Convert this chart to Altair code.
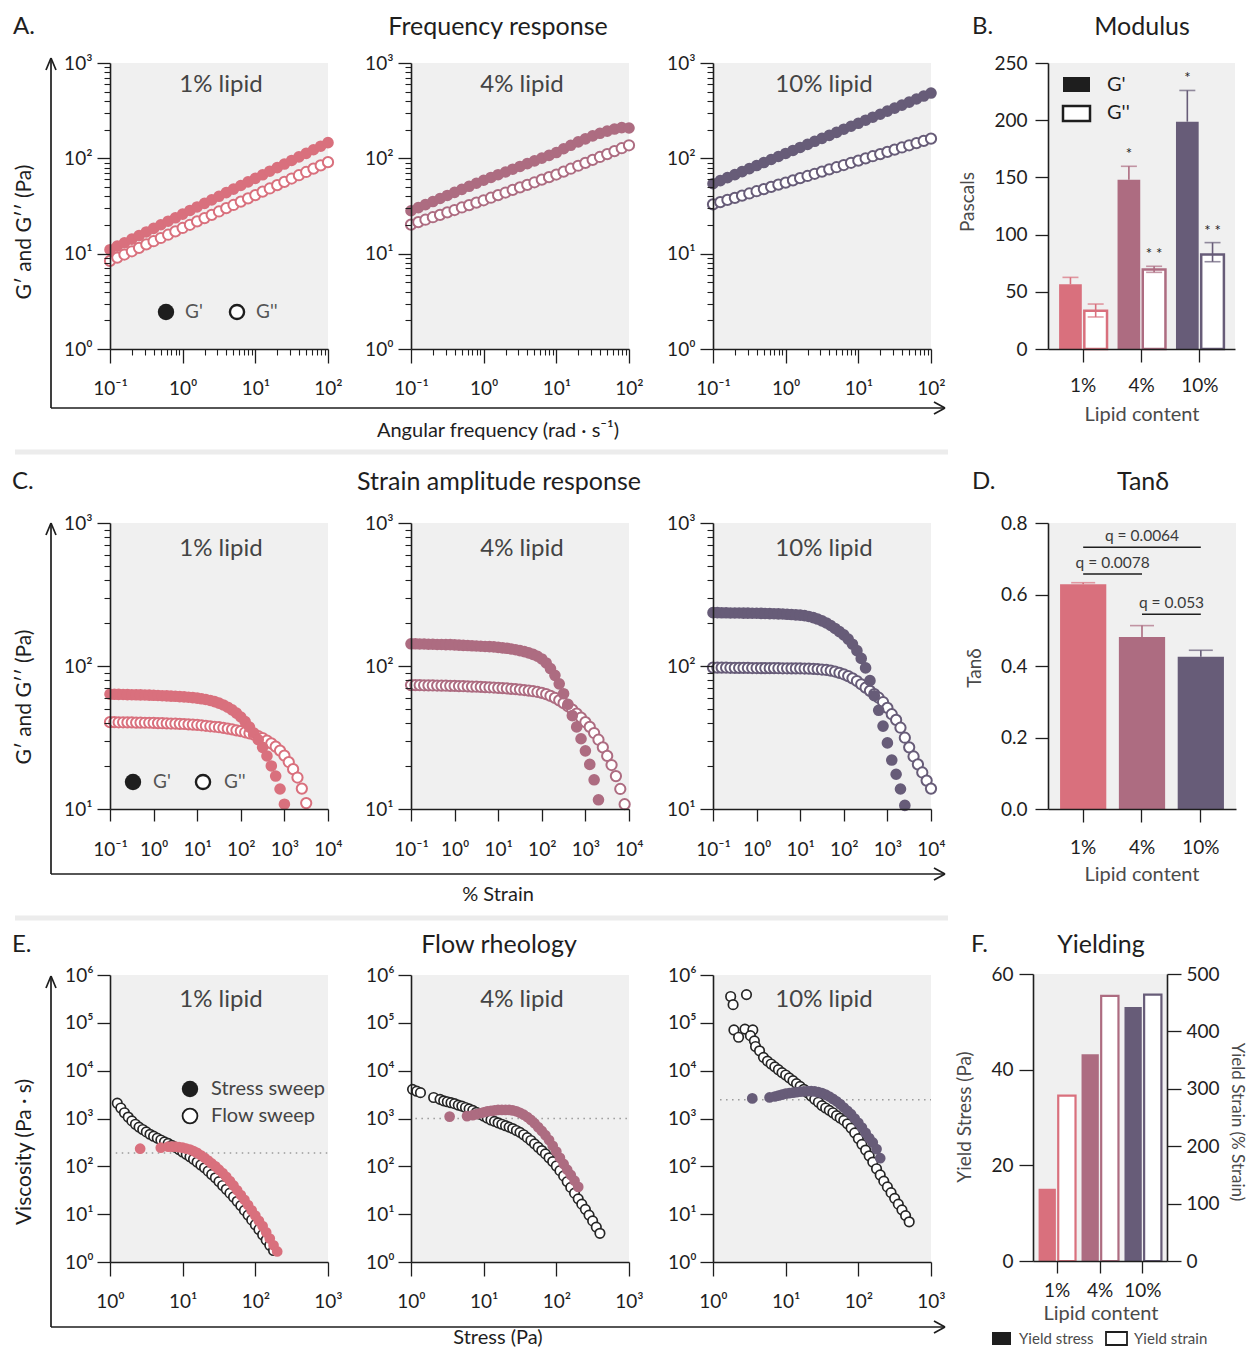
import altair as alt
import pandas as pd

W, H = 1242, 1340
FONT = "Lato"
C1, C4, C10 = "#D9707D", "#AD6C81", "#675C78"
PANEL_BG = "#F0F0F0"
INK = "#1E1E1E"
SOFT = "#4A4A4A"
SEP = "#ECECEC"

LIPID = ["1%", "4%", "10%"]
LIPID_COLORS = [C1, C4, C10]

# ---------------- A. frequency sweep (G', G'' vs angular frequency) ----------------
FREQ = [0.1, 0.126, 0.158, 0.2, 0.251, 0.316, 0.398, 0.501, 0.631, 0.794,
        1.0, 1.26, 1.58, 2.0, 2.51, 3.16, 3.98, 5.01, 6.31, 7.94,
        10, 12.6, 15.8, 20, 25.1, 31.6, 39.8, 50.1, 63.1, 79.4, 100]
A_GP_1 = [11.0, 12.0, 13.0, 14.2, 15.5, 16.9, 18.4, 20.1, 21.9, 23.8,
          26.0, 28.4, 30.9, 33.7, 36.7, 40.0, 43.7, 47.6, 51.9, 56.6,
          61.7, 67.2, 73.3, 79.9, 87.1, 95.0, 103.5, 112.8, 123.0, 134.0, 146.0]
A_GPP_1 = [8.4, 9.1, 9.8, 10.6, 11.5, 12.5, 13.5, 14.6, 15.8, 17.1,
           18.6, 20.1, 21.8, 23.6, 25.5, 27.7, 30.0, 32.4, 35.2, 38.0,
           41.2, 44.7, 48.3, 52.3, 56.6, 61.4, 66.5, 71.9, 78.0, 84.3, 91.2]
A_GP_4 = [28.2, 30.4, 32.7, 35.2, 37.9, 40.8, 44.0, 47.3, 50.9, 54.8,
          58.9, 63.0, 67.3, 71.9, 76.9, 82.2, 87.9, 94.0, 100.5, 107.4,
          115, 126, 137, 149, 160, 172, 183, 193, 203, 210, 208]
A_GPP_4 = [20.2, 21.4, 22.7, 24.1, 25.5, 27.1, 28.7, 30.5, 32.3, 34.3,
           36.3, 38.6, 41.1, 43.8, 46.6, 49.5, 52.7, 56.1, 59.7, 63.5,
           67.6, 72.6, 77.8, 83.6, 89.7, 96.3, 103.3, 110.9, 119.1, 127.7, 137.1]
A_GP_10 = [54.2, 58.3, 62.7, 67.4, 72.5, 78.1, 84.0, 90.3, 97.2, 104.5,
           112.5, 121, 130, 140, 151, 162, 174, 187, 202, 217,
           233, 251, 270, 290, 313, 336, 361, 389, 419, 450, 484]
A_GPP_10 = [32.9, 34.7, 36.6, 38.5, 40.6, 42.8, 45.2, 47.6, 50.1, 52.9,
            55.7, 58.8, 61.9, 65.3, 68.9, 72.6, 76.6, 80.7, 85.1, 89.8,
            94.6, 99.8, 105.2, 110.9, 116.9, 123.3, 130.0, 137.1, 144.5, 152.4, 160.7]

# ---------------- C. strain amplitude sweep ----------------
STRAIN = [0.1, 0.126, 0.158, 0.2, 0.251, 0.316, 0.398, 0.501, 0.631, 0.794,
          1.0, 1.26, 1.58, 2.0, 2.51, 3.16, 3.98, 5.01, 6.31, 7.94,
          10, 12.6, 15.8, 20, 25.1, 31.6, 39.8, 50.1, 63.1, 79.4,
          100, 126, 158, 200, 251, 316, 398, 501, 631, 794,
          1000, 1259, 1585, 1995, 2512, 3162, 3981, 5012, 6310, 7943, 10000]
C_GP_1 = [63.5, 63.4, 63.3, 63.2, 63.1, 63.0, 62.9, 62.8, 62.7, 62.6,
          62.4, 62.2, 62.0, 61.8, 61.6, 61.4, 61.1, 60.8, 60.5, 60.1,
          59.6, 59.0, 58.3, 57.4, 56.3, 55.0, 53.4, 51.5, 49.3, 46.8,
          44.0, 40.8, 37.4, 34.0, 30.5, 27.0, 23.5, 20.0, 17.0, 13.8, 10.8]
C_GPP_1 = [40.5, 40.5, 40.4, 40.4, 40.3, 40.3, 40.2, 40.2, 40.1, 40.1,
           40.0, 39.9, 39.8, 39.7, 39.6, 39.5, 39.4, 39.3, 39.1, 38.9,
           38.7, 38.5, 38.2, 37.9, 37.6, 37.3, 36.9, 36.5, 36.0, 35.5,
           35.0, 34.4, 33.8, 33.1, 32.3, 31.3, 30.1, 28.8, 27.3, 25.6,
           23.6, 21.3, 19.0, 16.6, 13.9, 11.0]
C_GP_4 = [143, 143, 142.5, 142.5, 142, 142, 141.5, 141.5, 141, 141,
          140.5, 140, 139.5, 139, 138.5, 138, 137.5, 137, 136.5, 136,
          135, 134, 133, 131.5, 130, 128, 126, 123.5, 120.5, 117,
          112, 105, 96, 86, 75, 64, 54, 45, 37.5, 31,
          25.5, 20.5, 16, 11.6]
C_GPP_4 = [73.5, 73.5, 73.4, 73.3, 73.2, 73.1, 73.0, 72.9, 72.8, 72.7,
           72.6, 72.4, 72.2, 72.0, 71.8, 71.6, 71.4, 71.2, 71.0, 70.7,
           70.4, 70.1, 69.7, 69.3, 68.9, 68.4, 67.9, 67.3, 66.6, 65.8,
           64.9, 63.5, 61.8, 59.8, 57.5, 55.0, 52.3, 49.5, 46.5, 43.5,
           40.5, 37.5, 34.0, 30.5, 27.0, 23.5, 20.3, 17.0, 13.8, 10.8]
C_GP_10 = [236, 236, 235.5, 235.5, 235, 235, 235, 234.5, 234.5, 234,
           234, 233.5, 233, 232.5, 232, 231.5, 231, 230, 229, 228,
           227, 225, 222, 218, 213, 207, 200, 192, 183, 174,
           165, 154, 142, 128, 113, 97, 79, 62, 49, 38,
           29, 22, 17.5, 13.8, 10.6]
C_GPP_10 = [97.5, 97.5, 97.4, 97.3, 97.2, 97.1, 97.0, 97.0, 96.9, 96.8,
            96.8, 96.7, 96.7, 96.6, 96.6, 96.5, 96.4, 96.4, 96.3, 96.2,
            96.2, 96.0, 95.8, 95.5, 95.1, 94.5, 93.8, 92.8, 91.5, 89.5,
            87.5, 85.0, 82.0, 78.5, 74.5, 70.5, 67.0, 63.5, 60.0, 56.0,
            51.0, 46.0, 42.0, 37.0, 31.5, 27.0, 23.3, 20.5, 18.0, 15.8, 13.9]

# ---------------- E. flow rheology (viscosity vs stress) ----------------
STRESS = [1.0, 1.12, 1.26, 1.41, 1.58, 1.78, 2.0, 2.24, 2.51, 2.82,
          3.16, 3.55, 3.98, 4.47, 5.01, 5.62, 6.31, 7.08, 7.94, 8.91,
          10.0, 11.2, 12.6, 14.1, 15.8, 17.8, 20.0, 22.4, 25.1, 28.2,
          31.6, 35.5, 39.8, 44.7, 50.1, 56.2, 63.1, 70.8, 79.4, 89.1,
          100, 112, 126, 141, 158, 178, 200, 224, 251, 282,
          316, 355, 398, 447, 501, 562]
E1_FLOW_X = STRESS[2:46]
E1_FLOW_V = [2089, 1660, 1318, 1072, 891, 759, 661, 589, 525, 468,
             427, 389, 355, 324, 302, 275, 251, 224, 200, 178,
             158, 141, 123, 107, 93.3, 79.4, 67.6, 57.5, 47.9, 39.8,
             33.1, 27.5, 22.9, 18.6, 15.1, 12.0, 9.55, 7.59, 6.03, 4.79,
             3.72, 2.88, 2.24, 1.74]
E1_STRESS_X = [2.6, 5.0] + STRESS[16:47]
E1_STRESS_V = [234, 245, 257, 257, 257, 251, 245, 234, 224, 209, 191, 170,
               151, 132, 115, 100, 85.1, 72.4, 60.3, 49.0, 39.8, 31.6,
               25.1, 20.0, 15.5, 12.0, 9.33, 7.24, 5.62, 4.17, 3.09, 2.24, 1.66]
E2_FLOW_X = [1.05, 1.2, 1.35, 2.05] + STRESS[8:53]
E2_FLOW_V = [4070, 3720, 3470, 2750, 2512, 2344, 2239, 2138, 2042, 1905,
             1820, 1698, 1585, 1479, 1349, 1230, 1122, 1023, 933, 871,
             813, 759, 708, 661, 617, 562, 513, 457, 398, 347,
             295, 251, 214, 182, 151, 126, 102, 81.3, 63.1, 47.9,
             36.3, 27.5, 20.9, 16.2, 12.6, 9.55, 7.24, 5.37, 3.98]
E2_STRESS_X = [3.4, 5.9] + STRESS[17:47]
E2_STRESS_V = [1096, 1122, 1175, 1230, 1288, 1349, 1413, 1445, 1479, 1514,
               1514, 1514, 1514, 1479, 1413, 1318, 1202, 1072, 933, 794,
               661, 550, 447, 355, 269, 204, 151, 112, 85.1, 66.1, 50.1, 37.2]
E3_FLOW_X = [1.75, 1.89, 2.89, 1.94, 2.25, 2.75, 3.53, 3.27, 3.71, 3.85, 4.37, 4.95] + STRESS[15:55]
E3_FLOW_V = [355000, 240000, 389000, 71000, 50000, 74000, 71000, 54000, 42000, 32000, 26000, 19000,
             15850, 13800, 12020, 10470, 9120, 8128, 7079, 6166, 5370, 4677,
             4074, 3467, 2951, 2512, 2188, 1862, 1660, 1479, 1318, 1148,
             1023, 912, 776, 631, 501, 380, 288, 219, 166, 123,
             89.1, 66.1, 49.0, 37.2, 28.2, 21.4, 16.2, 12.3, 9.33, 6.92]
E3_STRESS_X = [3.47, 6.0] + STRESS[17:47]
E3_STRESS_V = [2630, 2754, 2884, 3020, 3162, 3311, 3388, 3467, 3548, 3631,
               3673, 3715, 3715, 3673, 3548, 3388, 3162, 2884, 2570, 2291,
               1995, 1698, 1445, 1230, 1000, 813, 646, 501, 389, 316, 229, 148]
E_PLATEAU = [190, 1000, 2460]
E_PLATEAU_FROM = [1.2, 1.15, 1.25]
E_PLATEAU_TO = 1000

# ---------------- B. modulus bars ----------------
MOD_GP = [56.5, 148.0, 198.7]
MOD_GP_HI = [62.6, 159.7, 226.0]
MOD_GPP = [33.5, 69.6, 82.5]
MOD_GPP_LO = [28.0, 67.0, 76.3]
MOD_GPP_HI = [39.3, 72.3, 93.0]
MOD_GP_STAR = ["", "*", "*"]
MOD_GPP_STAR = ["", "* *", "* *"]

# ---------------- D. tan delta ----------------
TAN_MEAN = [0.629, 0.481, 0.426]
TAN_HI = [0.633, 0.513, 0.444]
Q_LABEL = ["q = 0.0064", "q = 0.0078", "q = 0.053"]
Q_FROM = ["1%", "1%", "4%"]
Q_TO = ["10%", "4%", "10%"]
Q_Y = [0.732, 0.657, 0.545]

# ---------------- F. yielding ----------------
YIELD_STRESS = [15.1, 43.2, 53.1]
YIELD_STRAIN = [288, 462, 464]

# tick values
A_MINOR_X = [0.2, 0.3, 0.4, 0.5, 0.6, 0.7, 0.8, 0.9, 2, 3, 4, 5, 6, 7, 8, 9,
             20, 30, 40, 50, 60, 70, 80, 90]
A_MINOR_Y = [2, 3, 4, 5, 6, 7, 8, 9, 20, 30, 40, 50, 60, 70, 80, 90,
             200, 300, 400, 500, 600, 700, 800, 900]
C_MINOR_Y = [20, 30, 40, 50, 60, 70, 80, 90, 200, 300, 400, 500, 600, 700, 800, 900]

SUPS = "['\u207b\u00b9','\u2070','\u00b9','\u00b2','\u00b3','\u2074','\u2075','\u2076']"
POW_LABEL = "'10' + " + SUPS + "[round(log(datum.value) / LN10) + 1]"
ONE = alt.Data(values=[{"k": 0}])


def txt(s, x, y, size=19, color=SOFT, align="center", baseline="middle", angle=0):
    return alt.Chart(ONE).mark_text(
        text=s, font=FONT, fontSize=size, color=color, align=align, baseline=baseline, angle=angle
    ).encode(x=alt.value(x), y=alt.value(y))


def seg(x1, y1, x2, y2, color=INK, width=1.7):
    return alt.Chart(ONE).mark_rule(color=color, strokeWidth=width).encode(
        x=alt.value(x1), y=alt.value(y1), x2=alt.value(x2), y2=alt.value(y2))


def box(x1, y1, x2, y2, fill, stroke=None, width=0):
    kw = {"fill": fill}
    if stroke:
        kw["stroke"] = stroke
        kw["strokeWidth"] = width
    return alt.Chart(ONE).mark_rect(**kw).encode(
        x=alt.value(x1), x2=alt.value(x2), y=alt.value(y1), y2=alt.value(y2))


def glyph(x, y, size, filled, color=INK, width=2.2):
    if filled:
        m = alt.Chart(ONE).mark_circle(size=size, color=color, opacity=1)
    else:
        m = alt.Chart(ONE).mark_point(shape="circle", filled=True, fill="white", stroke=color,
                                      strokeWidth=width, size=size, opacity=1)
    return m.encode(x=alt.value(x), y=alt.value(y))


def major_axis(orient, offset, tick, pad, values=None, expr=None, fmt=None):
    kw = dict(orient=orient, offset=offset, title=None, grid=False, tickSize=tick, tickWidth=1.3,
              tickColor=INK, domainColor=INK, domainWidth=1.6, labelFont=FONT, labelFontSize=19,
              labelColor=INK, labelPadding=pad, labelFlush=False, labelOverlap=False, labelAngle=0,
              zindex=1)
    if values is not None:
        kw["values"] = values
    if expr:
        kw["labelExpr"] = expr
    if fmt:
        kw["format"] = fmt
    return alt.Axis(**kw)


def minor_axis(orient, offset, values):
    return alt.Axis(orient=orient, offset=offset, values=values, title=None, grid=False, labels=False,
                    domain=False, tickSize=6, tickWidth=1.1, tickColor=INK, zindex=1)


def log_panel(xr, yr, xdom, ydom, xmaj, ymaj, xmin, ymin, series, xt, xp, yt, yp, plateau=None):
    xs = alt.Scale(type="log", domain=xdom, range=[xr[0], xr[1]], nice=False)
    ys = alt.Scale(type="log", domain=ydom, range=[yr[1], yr[0]], nice=False)
    xo, yo = yr[1] - H, -xr[0]
    anchor = pd.DataFrame({"x": [xdom[0]], "y": [ydom[0]]})

    def guide(xa, ya):
        return alt.Chart(anchor).mark_point(opacity=0, size=1).encode(
            x=alt.X("x:Q", scale=xs, axis=xa), y=alt.Y("y:Q", scale=ys, axis=ya))

    layers = [box(xr[0], yr[0], xr[1], yr[1], PANEL_BG)]
    if plateau is not None:
        pdf = pd.DataFrame({"x": [plateau[0]], "x2": [plateau[1]], "y": [plateau[2]]})
        layers.append(alt.Chart(pdf).mark_rule(color="#9A9A9A", strokeWidth=1.5, strokeDash=[1.5, 4.5]).encode(
            x=alt.X("x:Q", scale=xs, axis=None), x2="x2:Q", y=alt.Y("y:Q", scale=ys, axis=None)))
    layers.append(guide(major_axis("bottom", xo, xt, xp, xmaj, POW_LABEL),
                        major_axis("left", yo, yt, yp, ymaj, POW_LABEL)))
    if xmin or ymin:
        layers.append(guide(minor_axis("bottom", xo, xmin) if xmin else None,
                            minor_axis("left", yo, ymin) if ymin else None))
    for xv, yv, fill, edge, size, sw in series:
        df = pd.DataFrame({"x": xv, "y": yv})
        if fill:
            mk = alt.Chart(df).mark_circle(size=size, color=fill, opacity=1)
        else:
            mk = alt.Chart(df).mark_point(shape="circle", filled=True, fill="white", stroke=edge,
                                          strokeWidth=sw, size=size, opacity=1)
        layers.append(mk.encode(x=alt.X("x:Q", scale=xs, axis=None), y=alt.Y("y:Q", scale=ys, axis=None)))
    return alt.layer(*layers).resolve_scale(x="shared", y="shared").resolve_axis(x="independent", y="independent")


ROW_A = (55, 341)
ROW_C = (515, 801)
ROW_E = (967, 1254)
COLS = [(102, 320), (403, 621), (705, 923)]

panels = []
# Row A
for gp, gpp, col, xr in zip([A_GP_1, A_GP_4, A_GP_10], [A_GPP_1, A_GPP_4, A_GPP_10], LIPID_COLORS, COLS):
    panels.append(log_panel(xr, ROW_A, [0.1, 100], [1, 1000], [0.1, 1, 10, 100], [1, 10, 100, 1000],
                            A_MINOR_X, A_MINOR_Y,
                            [(FREQ, gpp, None, col, 105, 2.0), (FREQ, gp, col, None, 135, 0)],
                            14, 16, 13, 5))
# Row C
for gp, gpp, col, xr in zip([C_GP_1, C_GP_4, C_GP_10], [C_GPP_1, C_GPP_4, C_GPP_10], LIPID_COLORS, COLS):
    panels.append(log_panel(xr, ROW_C, [0.1, 10000], [10, 1000], [0.1, 1, 10, 100, 1000, 10000], [10, 100, 1000],
                            None, C_MINOR_Y,
                            [(STRAIN[:len(gpp)], gpp, None, col, 105, 2.0),
                             (STRAIN[:len(gp)], gp, col, None, 135, 0)],
                            12, 19, 13, 5))
# Row E
E_SETS = [(E1_FLOW_X, E1_FLOW_V, E1_STRESS_X, E1_STRESS_V),
          (E2_FLOW_X, E2_FLOW_V, E2_STRESS_X, E2_STRESS_V),
          (E3_FLOW_X, E3_FLOW_V, E3_STRESS_X, E3_STRESS_V)]
for i, ((fx, fv, sx, sv), col, xr) in enumerate(zip(E_SETS, LIPID_COLORS, COLS)):
    panels.append(log_panel(xr, ROW_E, [1, 1000], [1, 1000000], [1, 10, 100, 1000],
                            [1, 10, 100, 1000, 10000, 100000, 1000000], None, None,
                            [(fx, fv, None, "#262626", 90, 1.7), (sx, sv, col, None, 115, 0)],
                            14, 16, 13, 4,
                            plateau=(E_PLATEAU_FROM[i], E_PLATEAU_TO, E_PLATEAU[i])))

col_scale = alt.Scale(domain=LIPID, range=LIPID_COLORS)
COLOR = alt.Color("lipid:N", scale=col_scale, legend=None)
STROKE = alt.Stroke("lipid:N", scale=col_scale, legend=None)

# ---- B. Modulus ----
MOD = pd.DataFrame({
    "lipid": LIPID + LIPID,
    "kind": ["Gp"] * 3 + ["Gpp"] * 3,
    "mean": MOD_GP + MOD_GPP,
    "lo": MOD_GP + MOD_GPP_LO,
    "hi": MOD_GP_HI + MOD_GPP_HI,
    "star": MOD_GP_STAR + MOD_GPP_STAR,
})
b_xs = alt.Scale(domain=LIPID, range=[1040, 1227], paddingInner=0.18, paddingOuter=0.19)
b_ys = alt.Scale(domain=[0, 250], range=[341, 55], nice=False)
b_off = alt.XOffset("kind:N", scale=alt.Scale(domain=["Gp", "Gpp"], paddingInner=0.1))


def bX(axis=None):
    return alt.X("lipid:N", sort=LIPID, scale=b_xs, axis=axis)


def bY(field, axis=None):
    return alt.Y(field, scale=b_ys, axis=axis, stack=None)


gp_src = alt.Chart(MOD).transform_filter(alt.FieldEqualPredicate(field="kind", equal="Gp"))
gpp_src = alt.Chart(MOD).transform_filter(alt.FieldEqualPredicate(field="kind", equal="Gpp"))
panel_b = alt.layer(
    box(1040, 55, 1227, 341, PANEL_BG),
    gp_src.mark_rule(strokeWidth=1.6).encode(x=bX(), xOffset=b_off, y=bY("mean:Q"), y2="hi:Q", color=COLOR),
    gp_src.mark_tick(orient="horizontal", size=16, thickness=1.6).encode(x=bX(), xOffset=b_off, y=bY("hi:Q"), color=COLOR),
    gp_src.mark_bar(opacity=1).encode(
        x=bX(major_axis("bottom", 341 - H, 13, 14)), xOffset=b_off,
        y=bY("mean:Q", major_axis("left", -1040, 13, 8, [0, 50, 100, 150, 200, 250])), color=COLOR),
    gpp_src.mark_bar(fill="white", strokeWidth=2.5, opacity=1).encode(
        x=bX(), xOffset=b_off, y=bY("mean:Q"), stroke=STROKE),
    gpp_src.mark_rule(strokeWidth=1.6).encode(x=bX(), xOffset=b_off, y=bY("lo:Q"), y2="hi:Q", color=COLOR),
    gpp_src.mark_tick(orient="horizontal", size=16, thickness=1.6).encode(x=bX(), xOffset=b_off, y=bY("hi:Q"), color=COLOR),
    gpp_src.mark_tick(orient="horizontal", size=16, thickness=1.6).encode(x=bX(), xOffset=b_off, y=bY("lo:Q"), color=COLOR),
    alt.Chart(MOD).transform_filter("datum.star != ''").mark_text(
        font=FONT, fontSize=15, color=INK, baseline="middle", dy=-12).encode(
        x=bX(), xOffset=b_off, y=bY("hi:Q"), text="star:N"),
).resolve_axis(x="independent", y="independent")

# ---- D. Tan delta ----
TAN = pd.DataFrame({"lipid": LIPID, "mean": TAN_MEAN, "hi": TAN_HI})
d_xs = alt.Scale(domain=LIPID, range=[1040, 1228], paddingInner=0.214, paddingOuter=0.205)
d_ys = alt.Scale(domain=[0, 0.8], range=[801, 515], nice=False)


def dX(axis=None):
    return alt.X("lipid:N", sort=LIPID, scale=d_xs, axis=axis)


def dY(field, axis=None):
    return alt.Y(field, scale=d_ys, axis=axis, stack=None)


BRK = pd.DataFrame({"id": Q_LABEL + Q_LABEL, "lipid": Q_FROM + Q_TO, "y": Q_Y + Q_Y})
d_layers = [
    box(1040, 515, 1228, 801, PANEL_BG),
    alt.Chart(TAN).mark_rule(strokeWidth=1.6).encode(x=dX(), y=dY("mean:Q"), y2="hi:Q", color=COLOR),
    alt.Chart(TAN).mark_tick(orient="horizontal", size=24, thickness=1.6).encode(x=dX(), y=dY("hi:Q"), color=COLOR),
    alt.Chart(TAN).mark_bar(opacity=1).encode(
        x=dX(major_axis("bottom", 801 - H, 13, 16)),
        y=dY("mean:Q", major_axis("left", -1040, 13, 8, [0, 0.2, 0.4, 0.6, 0.8], fmt=".1f")),
        color=COLOR),
    alt.Chart(BRK).mark_line(color=INK, strokeWidth=1.5).encode(x=dX(), y=dY("y:Q"), detail="id:N"),
]
for lab, anchor_cat, shift, yv in zip(Q_LABEL, ["4%", "1%", "4%"], [0, 29.5, 29.5], Q_Y):
    qdf = pd.DataFrame({"lipid": [anchor_cat], "y": [yv], "t": [lab]})
    d_layers.append(alt.Chart(qdf).mark_text(font=FONT, fontSize=15.5, color="#3A3A3A", dx=shift, dy=-11,
                                              baseline="middle").encode(x=dX(), y=dY("y:Q"), text="t:N"))
panel_d = alt.layer(*d_layers).resolve_axis(x="independent", y="independent")

# ---- F. Yielding ----
YLD = pd.DataFrame({"lipid": LIPID + LIPID, "kind": ["stress"] * 3 + ["strain"] * 3,
                    "v": YIELD_STRESS + YIELD_STRAIN})
f_xs = alt.Scale(domain=LIPID, range=[1025, 1159], paddingInner=0.14, paddingOuter=0.13)
f_off = alt.XOffset("kind:N", scale=alt.Scale(domain=["stress", "strain"], paddingInner=0.12))
f_stress = alt.Chart(YLD).transform_filter(alt.FieldEqualPredicate(field="kind", equal="stress")).mark_bar(opacity=1).encode(
    x=alt.X("lipid:N", sort=LIPID, scale=f_xs, axis=major_axis("bottom", 1253 - H, 12, 8)),
    xOffset=f_off,
    y=alt.Y("v:Q", scale=alt.Scale(domain=[0, 60], range=[1253, 966], nice=False),
            axis=major_axis("left", -1025, 14, 6, [0, 20, 40, 60]), stack=None),
    color=COLOR)
f_strain = alt.Chart(YLD).transform_filter(alt.FieldEqualPredicate(field="kind", equal="strain")).mark_bar(
    fill="white", strokeWidth=2.2, opacity=1).encode(
    x=alt.X("lipid:N", sort=LIPID, scale=f_xs, axis=None),
    xOffset=f_off,
    y=alt.Y("v:Q", scale=alt.Scale(domain=[0, 500], range=[1253, 966], nice=False),
            axis=major_axis("right", 1159 - W, 14, 5, [0, 100, 200, 300, 400, 500]), stack=None),
    stroke=STROKE)
panel_f = alt.layer(box(1025, 966, 1159, 1253, PANEL_BG), f_stress, f_strain).resolve_scale(
    y="independent").resolve_axis(x="independent", y="independent")

# ---- decorations / annotations ----
deco = [
    seg(7, 444, 940, 444, SEP, 5), seg(7, 910, 940, 910, SEP, 5),
]
for top, base in [(50, 400), (515, 866), (968, 1319)]:
    deco += [seg(43, top, 43, base), seg(43, base, 937, base),
             seg(43, top, 38, top + 12), seg(43, top, 48, top + 12),
             seg(937, base, 926, base - 6), seg(937, base, 926, base + 6)]

texts = [
    txt("A.", 5, 19, 24, INK, "left"), txt("Frequency response", 490, 19, 25, INK),
    txt("B.", 964, 19, 24, INK, "left"), txt("Modulus", 1134, 19, 25, INK),
    txt("C.", 4, 474, 24, INK, "left"), txt("Strain amplitude response", 491, 474, 25, INK),
    txt("D.", 964, 474, 24, INK, "left"), txt("Tan\u03b4", 1135, 474, 25, INK),
    txt("E.", 4, 937, 24, INK, "left"), txt("Flow rheology", 491, 937, 25, INK),
    txt("F.", 963, 937, 24, INK, "left"), txt("Yielding", 1093, 937, 25, INK),
    txt("Angular frequency (rad \u00b7 s\u207b\u00b9)", 490, 423, 20, INK),
    txt("G\u2032 and G\u2032\u2032 (Pa)", 17, 224, 21, INK, angle=270),
    txt("% Strain", 490, 887, 20, INK),
    txt("G\u2032 and G\u2032\u2032 (Pa)", 17, 689, 21, INK, angle=270),
    txt("Stress (Pa)", 490, 1336, 20, INK, baseline="alphabetic"),
    txt("Viscosity (Pa \u00b7 s)", 17, 1144, 21, INK, angle=270),
    txt("Pascals", 960, 194, 19, SOFT, angle=270),
    txt("Lipid content", 1134, 407, 20, SOFT),
    txt("Tan\u03b4", 967, 660, 19, SOFT, angle=270),
    txt("Lipid content", 1134, 867, 20, SOFT),
    txt("Yield Stress (Pa)", 957, 1109, 19, SOFT, angle=270),
    txt("Yield Strain (% Strain)", 1229, 1114, 17, SOFT, angle=90),
    txt("Lipid content", 1093, 1306, 20, SOFT),
]
for yy in (77, 541, 992):
    for cx, lab in zip((213, 514, 816), ("1% lipid", "4% lipid", "10% lipid")):
        texts.append(txt(lab, cx, yy, 24, "#444444"))

legends = [
    glyph(158, 304, 270, True), txt("G'", 177, 304, 19, "#555555", "left"),
    glyph(229, 304, 200, False, INK, 2.4), txt("G''", 248, 304, 19, "#555555", "left"),
    glyph(125, 774, 270, True), txt("G'", 145, 774, 19, "#555555", "left"),
    glyph(195, 774, 200, False, INK, 2.4), txt("G''", 216, 774, 19, "#555555", "left"),
    glyph(182, 1081, 270, True), txt("Stress sweep", 203, 1081, 20, "#444444", "left"),
    glyph(182, 1108, 220, False, INK, 1.8), txt("Flow sweep", 203, 1108, 20, "#444444", "left"),
    box(1055, 69, 1082, 84, INK), txt("G'", 1099, 77, 20, INK, "left"),
    box(1055, 98, 1082, 113, "white", INK, 2.5), txt("G''", 1099, 105, 20, INK, "left"),
    box(984, 1324, 1003, 1337, INK), txt("Yield stress", 1011, 1331, 15, SOFT, "left"),
    box(1098, 1324, 1119, 1337, "white", INK, 1.8), txt("Yield strain", 1126, 1331, 15, SOFT, "left"),
]

chart = alt.layer(
    *deco, *panels, panel_b, panel_d, panel_f, *texts, *legends
).resolve_scale(
    x="independent", y="independent", xOffset="independent", color="independent", stroke="independent"
).properties(
    width=W, height=H, padding=0, autosize=alt.AutoSizeParams(type="none")
).configure(font=FONT).configure_view(stroke=None)

chart.save("out.html", embed_options={"renderer": "svg", "actions": False})
